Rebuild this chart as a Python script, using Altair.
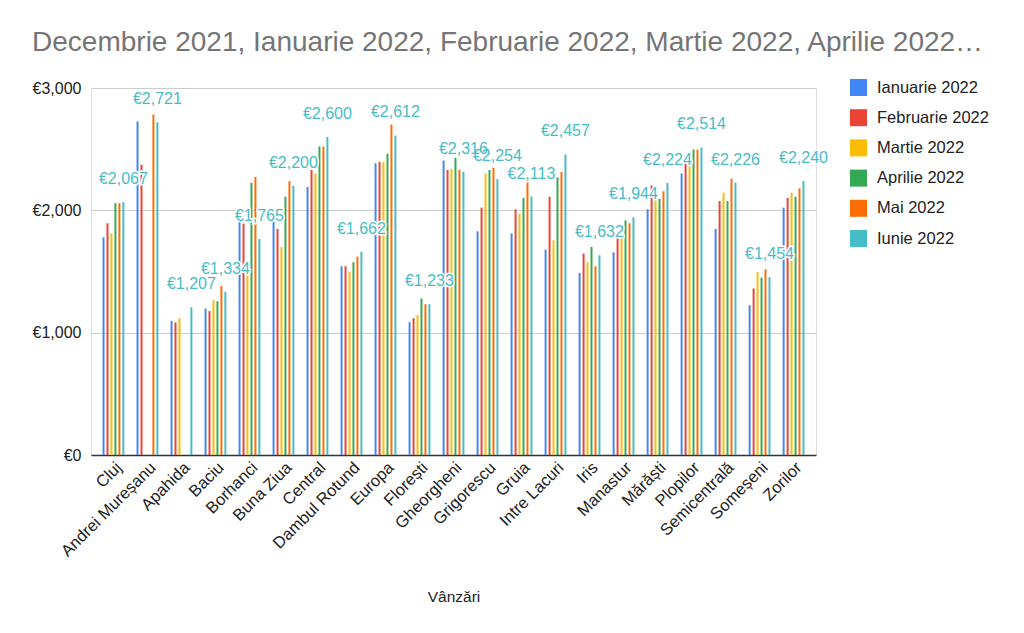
import altair as alt
import pandas as pd

categories = ["Cluj", "Andrei Mureșanu", "Apahida", "Baciu", "Borhanci", "Buna Ziua",
              "Central", "Dambul Rotund", "Europa", "Florești", "Gheorgheni", "Grigorescu",
              "Gruia", "Intre Lacuri", "Iris", "Manastur", "Mărăști", "Plopilor",
              "Semicentrală", "Someșeni", "Zorilor"]
series = ["Ianuarie 2022", "Februarie 2022", "Martie 2022", "Aprilie 2022", "Mai 2022", "Iunie 2022"]
colors = ["#4285F4", "#EA4335", "#FBBC04", "#34A853", "#FF6D01", "#46BDC6"]

ianuarie = [1780, 2727, 1097, 1197, 1905, 1910, 2190, 1543, 2384, 1086, 2408, 1829,
            1812, 1679, 1488, 1657, 2008, 2302, 1848, 1224, 2022]
februarie = [1894, 2373, 1083, 1176, 1891, 1848, 2329, 1543, 2395, 1118, 2329, 2022,
             2008, 2112, 1646, 1777, 2204, 2384, 2076, 1361, 2101]
martie = [1812, None, 1118, 1265, 1475, 1701, 2302, 1497, 2395, 1143, 2337, 2302,
          1973, 1755, 1576, 1777, 2087, 2362, 2144, 1497, 2144]
aprilie = [2058, None, None, 1257, 2226, 2112, 2522, 1576, 2463, 1279, 2430, 2329,
           2101, 2269, 1701, 1918, 2093, 2498, 2076, 1450, 2112]
mai = [2058, 2784, None, 1382, 2272, 2237, 2522, 1622, 2702, 1233, 2329, 2348,
       2237, 2313, 1543, 1894, 2155, 2498, 2259, 1518, 2180]
iunie = [2067, 2721, 1207, 1334, 1765, 2200, 2600, 1662, 2612, 1233, 2316, 2254,
         2113, 2457, 1632, 1944, 2224, 2514, 2226, 1454, 2240]

values = [ianuarie, februarie, martie, aprilie, mai, iunie]
rows = []
for s, vals in zip(series, values):
    for c, v in zip(categories, vals):
        if v is not None:
            rows.append({"cat": c, "series": s, "value": v})
df = pd.DataFrame(rows)

font = "Arial, Liberation Sans, sans-serif"

x_enc = alt.X("cat:N", sort=categories, title="Vânzări",
              scale=alt.Scale(paddingInner=0.3, paddingOuter=0.31),
              axis=alt.Axis(labelAngle=-45, labelAlign="right", labelBaseline="top",
                            labelFontSize=16.5, labelColor="#222222", labelFont=font,
                            labelPadding=4, ticks=False, domainColor="#333333",
                            domainWidth=1.5, titleFont=font, titleFontSize=15.5,
                            titleFontWeight="normal", titleColor="#222222",
                            titlePadding=30, grid=False))
xo_enc = alt.XOffset("series:N", sort=series,
                     scale=alt.Scale(domain=series, paddingInner=0.5, paddingOuter=0.25))
y_scale = alt.Scale(domain=[0, 3000])

bars = alt.Chart(df).mark_bar().encode(
    x=x_enc,
    xOffset=xo_enc,
    y=alt.Y("value:Q", scale=y_scale, title=None,
            axis=alt.Axis(values=[0, 1000, 2000, 3000],
                          labelExpr="'€' + format(datum.value, ',')",
                          labelFontSize=16, labelColor="#222222", labelFont=font,
                          labelPadding=10, ticks=False, domain=False,
                          gridColor="#cccccc", gridWidth=1)),
    color=alt.Color("series:N", sort=series,
                    scale=alt.Scale(domain=series, range=colors),
                    legend=alt.Legend(title=None, orient="none", legendX=759, legendY=-9,
                                      symbolType="square", symbolSize=289,
                                      symbolStrokeWidth=0, symbolOpacity=1,
                                      labelFontSize=16.5, labelColor="#222222",
                                      labelFont=font, labelOffset=10,
                                      rowPadding=13.2, padding=0)),
)

lab_df = df[df["series"] == "Iunie 2022"]
base_text = alt.Chart(lab_df).transform_calculate(
    label="'€' + format(datum.value, ',')"
).encode(
    x=alt.X("cat:N", sort=categories),
    xOffset=alt.XOffset("series:N", sort=series),
    y=alt.Y("value:Q", scale=y_scale),
    text="label:N",
)
halo = base_text.mark_text(dy=-23, fontSize=16, font=font, stroke="white",
                           strokeWidth=3, fill="white")
labels = base_text.mark_text(dy=-23, fontSize=16, font=font, fill="#46BDC6")

chart = alt.layer(bars, halo, labels).properties(
    width=725, height=367,
    title=alt.TitleParams(
        "Decembrie 2021, Ianuarie 2022, Februarie 2022, Martie 2022, Aprilie 2022…",
        anchor="start", frame="bounds", fontSize=28, font=font,
        fontWeight="normal", color="#757575", offset=22),
    padding={"left": 24, "top": 21, "right": 10, "bottom": 10},
).configure_view(stroke=None).configure(background="white")

chart.save("out.html", embed_options={"renderer": "svg", "actions": False})
